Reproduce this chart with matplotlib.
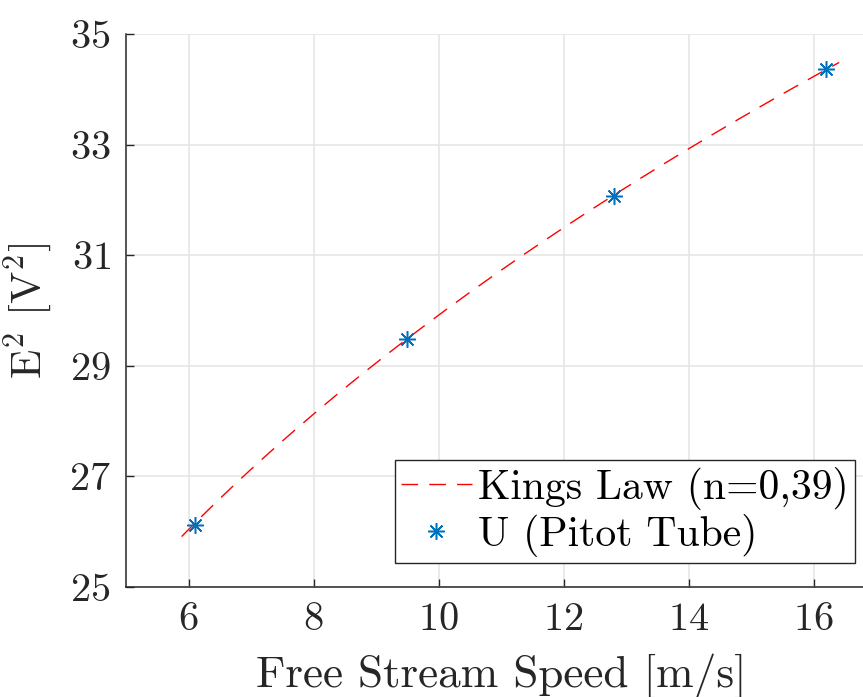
import numpy as np
import matplotlib
matplotlib.use("Agg")
import matplotlib.pyplot as plt

plt.rcParams["font.family"] = "serif"
plt.rcParams["font.serif"] = ["cmr10"]
plt.rcParams["mathtext.fontset"] = "cm"
plt.rcParams["axes.formatter.use_mathtext"] = True

# Measured free stream speed (Pitot tube) and squared anemometer voltage
speed = [6.1, 9.5, 12.8, 16.2]
e_squared = [26.13, 29.49, 32.07, 34.36]

# King's law fit E^2 = A + B * U^n
kings_a = 8.46
kings_b = 8.74
kings_n = 0.39
fit_range = (5.89, 16.41)

x_ticks = [6, 8, 10, 12, 14, 16]
y_ticks = [25, 27, 29, 31, 33, 35]

ink = "#262626"

fig = plt.figure(figsize=(8.63, 6.97), dpi=100)
ax = fig.add_axes([126 / 863, 110 / 697, 750 / 863, 553 / 697])

u = np.linspace(fit_range[0], fit_range[1], 300)
ax.plot(u, kings_a + kings_b * u ** kings_n, color="#ff0000", linestyle=(0, (12, 8)),
        linewidth=1.0, label="Kings Law (n=0,39)", zorder=3)
ax.plot(speed, e_squared, linestyle="none", marker=(8, 2, 0), markersize=12,
        markeredgewidth=1.1, color="#0072BD", label="U (Pitot Tube)", zorder=4)

ax.set_xlim(5, 17)
ax.set_ylim(25, 35)
ax.set_xticks(x_ticks)
ax.set_yticks(y_ticks)
ax.grid(True, color="#e6e6e6", linewidth=1.2)
ax.set_axisbelow(True)

for side in ("top", "right"):
    ax.spines[side].set_visible(False)
for side in ("left", "bottom"):
    ax.spines[side].set_color(ink)
    ax.spines[side].set_linewidth(1.1)

ax.tick_params(direction="in", length=6, width=1.0, colors=ink, labelsize=29,
               pad=11)

ax.set_xlabel("Free Stream Speed [m/s]", fontsize=32.5, color=ink, labelpad=11)
ax.set_ylabel(r"E$^{2}$ [V$^{2}$]", fontsize=31, color=ink, labelpad=10)

leg = ax.legend(loc="lower right", bbox_to_anchor=((855 - 126) / 750, 24 / 553),
                fontsize=30, frameon=True, fancybox=False, framealpha=1,
                handlelength=1.7, handletextpad=0.15, borderpad=0.15,
                labelspacing=0.1, borderaxespad=0)
leg.get_frame().set_edgecolor(ink)
leg.get_frame().set_linewidth(1.0)

fig.savefig("out.png", dpi=100)
